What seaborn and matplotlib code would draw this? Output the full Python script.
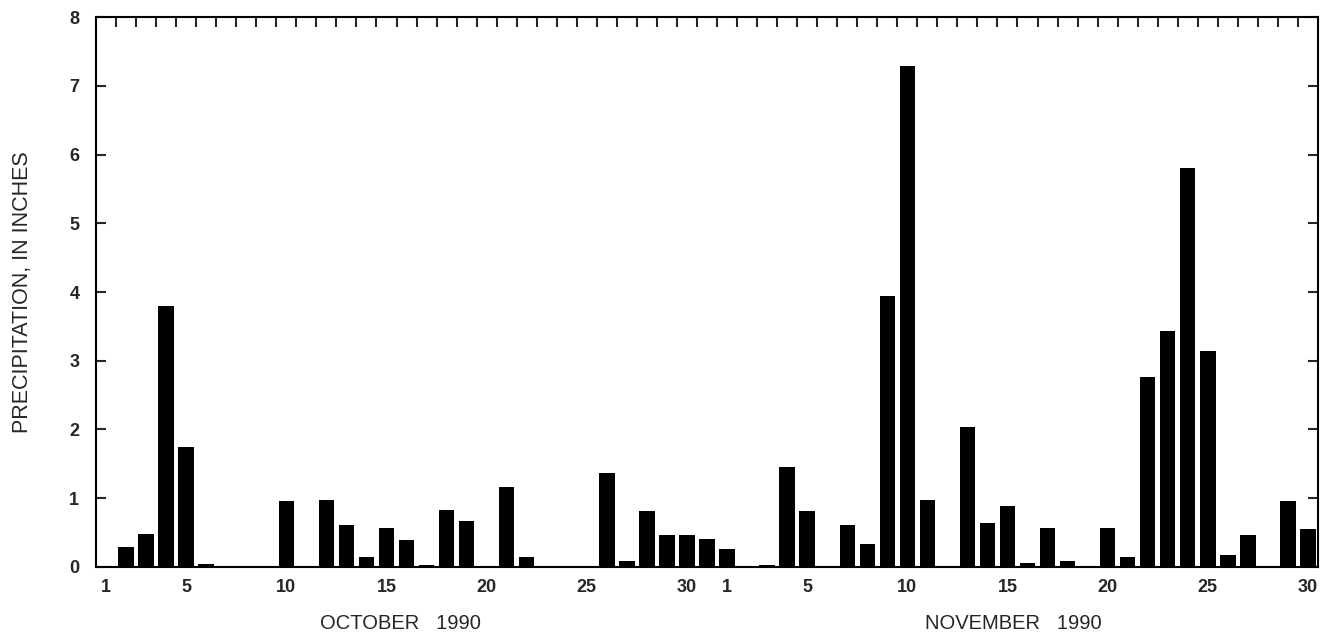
import numpy as np
import pandas as pd
import matplotlib
matplotlib.use('Agg')
import matplotlib.pyplot as plt
import seaborn as sns

# --- Data (daily precipitation, inches) ---
oct_days = list(range(1, 32))
oct_precip = [0.0, 0.29, 0.48, 3.79, 1.74, 0.04, 0.0, 0.0, 0.0, 0.96,
              0.01, 0.98, 0.61, 0.15, 0.57, 0.39, 0.03, 0.83, 0.67, 0.0,
              1.16, 0.15, 0.0, 0.0, 0.0, 1.36, 0.09, 0.81, 0.46, 0.47, 0.41]
nov_days = list(range(1, 31))
nov_precip = [0.26, 0.0, 0.03, 1.46, 0.81, 0.0, 0.61, 0.33, 3.95, 7.29,
              0.97, 0.0, 2.03, 0.64, 0.89, 0.05, 0.56, 0.08, 0.01, 0.57,
              0.15, 2.76, 3.44, 5.81, 3.14, 0.18, 0.46, 0.0, 0.96, 0.55]
label_days = [1, 5, 10, 15, 20, 25, 30]
y_ticks = list(range(0, 9))

df = pd.DataFrame({
    'day': oct_days + nov_days,
    'month': ['Oct'] * len(oct_days) + ['Nov'] * len(nov_days),
    'precip': oct_precip + nov_precip,
})
df['pos'] = np.arange(len(df))

sns.set_theme(style='white')
plt.rcParams['font.family'] = ['Liberation Sans', 'DejaVu Sans']

fig = plt.figure(figsize=(13.21, 6.37), dpi=100)
ax = fig.add_axes([0.0727, 0.110, 0.9250, 0.863])

sns.barplot(data=df, x='pos', y='precip', color='black', width=0.77,
            saturation=1, native_scale=True, ax=ax, errorbar=None,
            linewidth=0, edgecolor='black')

n = len(df)
ax.set_xlim(-0.5, n - 0.5)
ax.set_ylim(0, 8)

# bottom ticks: labels only
tick_pos = [d - 1 for d in label_days] + [len(oct_days) + d - 1 for d in label_days]
tick_lab = [str(d) for d in label_days] * 2
ax.set_xticks(tick_pos)
ax.set_xticklabels(tick_lab, fontsize=13, fontweight='bold')
ax.tick_params(axis='x', bottom=True, length=0, pad=9)

# y ticks both sides, inward
ax.set_yticks(y_ticks)
ax.set_yticklabels([str(v) for v in y_ticks], fontsize=13, fontweight='bold')
ax.tick_params(axis='y', left=True, right=True, direction='in', length=7,
               width=1.5, pad=12)

# top ticks at day boundaries
top = ax.secondary_xaxis('top')
top.set_xticks(np.arange(0.5, n - 1, 1.0))
top.tick_params(direction='in', length=7, width=1.5, labeltop=False)
top.spines['top'].set_visible(False)

for s in ax.spines.values():
    s.set_visible(True)
    s.set_color('black')
    s.set_linewidth(1.5)

ax.set_xlabel('')
ax.set_ylabel('PRECIPITATION, IN INCHES', fontsize=15.5, labelpad=26)

oct_mid = (len(oct_days) - 1) / 2
nov_mid = len(oct_days) + (len(nov_days) - 1) / 2
ax.text(oct_mid - 0.3, -0.82, 'OCTOBER   1990', ha='center', va='center',
        fontsize=14.5, transform=ax.transData)
ax.text(nov_mid - 0.2, -0.82, 'NOVEMBER   1990', ha='center', va='center',
        fontsize=14.5, transform=ax.transData)

fig.savefig('out.png', dpi=100)
plt.close(fig)
